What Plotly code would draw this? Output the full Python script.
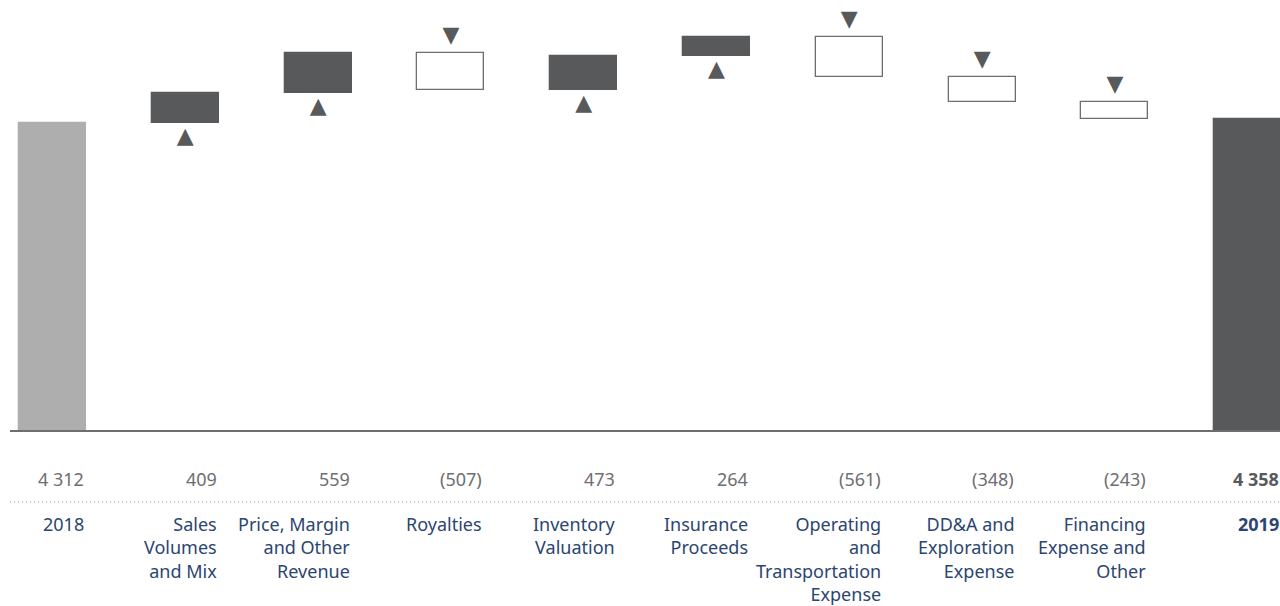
import plotly.graph_objects as go

# ---- data ----
categories = ["2018", "Sales<br>Volumes<br>and Mix", "Price, Margin<br>and Other<br>Revenue",
              "Royalties", "Inventory<br>Valuation", "Insurance<br>Proceeds",
              "Operating<br>and<br>Transportation<br>Expense",
              "DD&A and<br>Exploration<br>Expense", "Financing<br>Expense and<br>Other", "2019"]
start_total = 4312
changes = [409, 559, -507, 473, 264, -561, -348, -243]
end_total = 4358

# ---- derived ----
n = len(categories)
xs = list(range(n))
bases, heights, fills, lines = [], [], [], []
DARK = "#58595b"
LIGHT = "#aeaeae"
bases.append(0); heights.append(start_total); fills.append(LIGHT); lines.append(LIGHT)
level = start_total
tri_x, tri_y, tri_t = [], [], []
PX = 0.0715  # px per unit
for i, c in enumerate(changes, start=1):
    if c >= 0:
        bases.append(level); heights.append(c); fills.append(DARK); lines.append(DARK)
        tri_x.append(i); tri_y.append(level - 14.5 / PX); tri_t.append("▲")
    else:
        bases.append(level + c); heights.append(-c); fills.append("white"); lines.append("#6d6e71")
        tri_x.append(i); tri_y.append(level + 16.5 / PX); tri_t.append("▼")
    level += c
bases.append(0); heights.append(end_total); fills.append(DARK); lines.append(DARK)


def fmt(v):
    s = f"{abs(v):,}".replace(",", " ")
    return f"({s})" if v < 0 else s

value_labels = [fmt(start_total)] + [fmt(c) for c in changes] + ["<b>" + fmt(end_total) + "</b>"]

BW = 67 / 132.8
XMIN = -52.5 / 132.8
XMAX = (1280 - 52.5) / 132.8

fig = go.Figure()
fig.add_trace(go.Bar(x=xs, y=heights, base=bases, width=BW,
                     marker=dict(color=fills, line=dict(color=lines, width=1.3)),
                     hoverinfo="skip"))
fig.add_trace(go.Scatter(x=tri_x, y=tri_y, mode="text", text=tri_t,
                         textfont=dict(family="DejaVu Sans", size=22, color=DARK),
                         textposition="middle center", hoverinfo="skip"))

H = 431.0
def py(p):
    return (H - p) / H

def px_paper(xv):
    return (xv - XMIN) / (XMAX - XMIN)

ann = []
for i in xs:
    xr = px_paper(i + BW / 2)
    ann.append(dict(x=xr, y=py(479), xref="paper", yref="paper", xanchor="right",
                    yanchor="middle", text=value_labels[i], showarrow=False, align="right",
                    font=dict(family="Noto Sans", size=18,
                              color=DARK if i == n - 1 else "#6d6e71")))
    lab = categories[i] if i != n - 1 else "<b>" + categories[i] + "</b>"
    ann.append(dict(x=xr, y=py(510), xref="paper", yref="paper", xanchor="right",
                    yanchor="top", text=lab, showarrow=False, align="right",
                    font=dict(family="Noto Sans", size=18, color="#2b4570")))

shapes = [
    dict(type="line", xref="paper", yref="paper", x0=10 / 1280, x1=1, y0=0, y1=0,
         line=dict(color="#6d6e71", width=2)),
    dict(type="line", xref="paper", yref="paper", x0=10 / 1280, x1=1, y0=py(502), y1=py(502),
         line=dict(color="#8a8b8d", width=1.2, dash="1px,3px")),
]

fig.update_layout(
    width=1280, height=606,
    margin=dict(l=0, r=0, t=0, b=606 - 431, pad=0),
    plot_bgcolor="white", paper_bgcolor="white",
    showlegend=False, bargap=0,
    xaxis=dict(range=[XMIN, XMAX], visible=False, fixedrange=True),
    yaxis=dict(range=[0, H / PX], visible=False, fixedrange=True),
    annotations=ann, shapes=shapes,
)
fig.write_html("out.html", config={"displayModeBar": False})
